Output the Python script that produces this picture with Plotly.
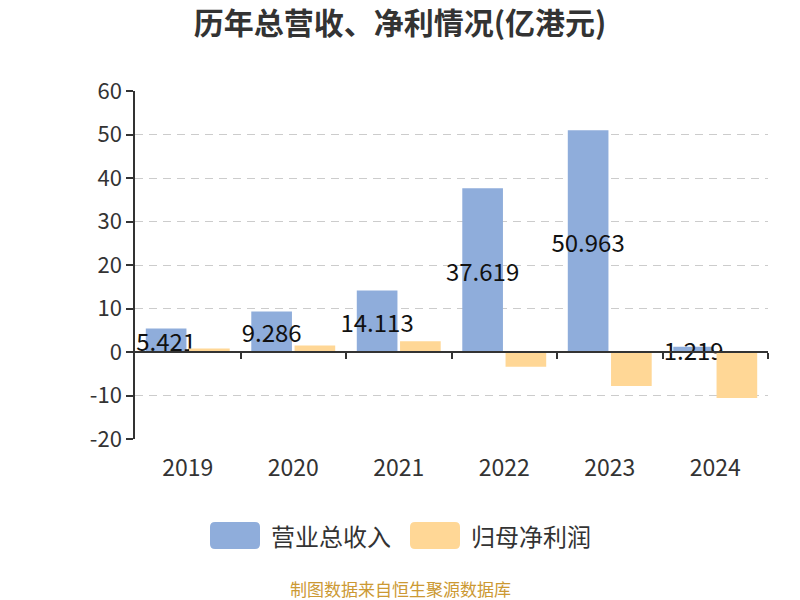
import plotly.graph_objects as go

years = ["2019", "2020", "2021", "2022", "2023", "2024"]
revenue = [5.421, 9.286, 14.113, 37.619, 50.963, 1.219]
net_profit = [0.8, 1.5, 2.5, -3.4, -7.8, -10.6]
series_names = ["营业总收入", "归母净利润"]
colors = ["#8FADDB", "#FFD796"]
y_tick_vals = [-20, -10, 0, 10, 20, 30, 40, 50, 60]
y_tick_text = ["-20", "-10", "0", "10", "20", "30", "40", "50", "60"]
title_text = "历年总营收、净利情况(亿港元)"
source_text = "制图数据来自恒生聚源数据库"

FONT = "Noto Sans CJK SC, Noto Sans, sans-serif"

fig = go.Figure()
fig.add_trace(go.Bar(
    x=years, y=revenue, name=series_names[0], marker=dict(color=colors[0], line=dict(width=0)),
    text=[f"{v:.3f}" for v in revenue], textposition="inside", insidetextanchor="middle",
    textangle=0, constraintext="none", insidetextfont=dict(color="#111", size=24, family=FONT),
    showlegend=False, hoverinfo="x+y",
))
fig.add_trace(go.Bar(
    x=years, y=net_profit, name=series_names[1], marker=dict(color=colors[1], line=dict(width=0)),
    showlegend=False, hoverinfo="x+y",
))
# empty trace to create the overlay axis that draws the zero line with boundary ticks
fig.add_trace(go.Scatter(x=[], y=[], xaxis="x2", showlegend=False, hoverinfo="skip"))

ymin, ymax = -20, 60
fig.update_layout(
    width=800, height=600,
    margin=dict(l=135, r=32, t=91, b=161),
    paper_bgcolor="white", plot_bgcolor="white",
    font=dict(family=FONT, color="#333"),
    barmode="group", bargap=0.18, bargroupgap=0.06,
    title=dict(text=f"<b>{title_text}</b>", x=0.5, xanchor="center", y=1 - 23 / 600,
               yanchor="middle", yref="container", font=dict(size=30, color="#333")),
    xaxis=dict(type="category", range=[-0.5, 5.5], showline=False, showgrid=False, zeroline=False,
               ticks="outside", ticklen=8, tickcolor="rgba(0,0,0,0)",
               tickfont=dict(size=23, color="#333")),
    xaxis2=dict(overlaying="x", anchor="free", position=(0 - ymin) / (ymax - ymin),
                range=[-0.5, 5.5], tickvals=[0.5, 1.5, 2.5, 3.5, 4.5, 5.5], showticklabels=False,
                ticks="outside", ticklen=6, tickwidth=1.5, tickcolor="#333",
                showline=True, linecolor="#333", linewidth=1.5, showgrid=False, zeroline=False),
    yaxis=dict(range=[ymin, ymax], tickvals=y_tick_vals, ticktext=y_tick_text,
               showline=True, linecolor="#333", linewidth=1.5,
               ticks="outside", ticklen=7, tickwidth=1.5, tickcolor="#333",
               showgrid=True, gridcolor="#cccccc", griddash="8px,6px", gridwidth=1.2,
               zeroline=False, tickfont=dict(size=22, color="#333")),
)

# custom legend
def px_x(x):
    return (x - 135) / 633

def px_y(y):
    return (439 - y) / 348

def rounded(x0, y0, x1, y1, r=5):
    X0, X1 = px_x(x0), px_x(x1)
    Y0, Y1 = px_y(y0), px_y(y1)
    rx, ry = r / 633, r / 348
    return (f"M {X0+rx},{Y0} L {X1-rx},{Y0} Q {X1},{Y0} {X1},{Y0-ry} "
            f"L {X1},{Y1+ry} Q {X1},{Y1} {X1-rx},{Y1} L {X0+rx},{Y1} "
            f"Q {X0},{Y1} {X0},{Y1+ry} L {X0},{Y0-ry} Q {X0},{Y0} {X0+rx},{Y0} Z")

legend_items = [(210, 269), (410, 469)]
for (bx, tx), name, col in zip(legend_items, series_names, colors):
    fig.add_shape(type="path", xref="paper", yref="paper",
                  path=rounded(bx, 522, bx + 50, 549), fillcolor=col, line=dict(width=0))
    fig.add_annotation(x=px_x(tx), y=px_y(535.5), xref="paper", yref="paper", text=name,
                       showarrow=False, xanchor="left", yanchor="middle",
                       font=dict(size=24, color="#333", family=FONT))

fig.add_annotation(x=px_x(400), y=px_y(588), xref="paper", yref="paper", text=source_text,
                   showarrow=False, xanchor="center", yanchor="middle", borderpad=0,
                   font=dict(size=17, color="#CC9933", family=FONT))

fig.write_html("out.html", config={"displayModeBar": False},
               post_script="document.body.style.margin='0px';")
